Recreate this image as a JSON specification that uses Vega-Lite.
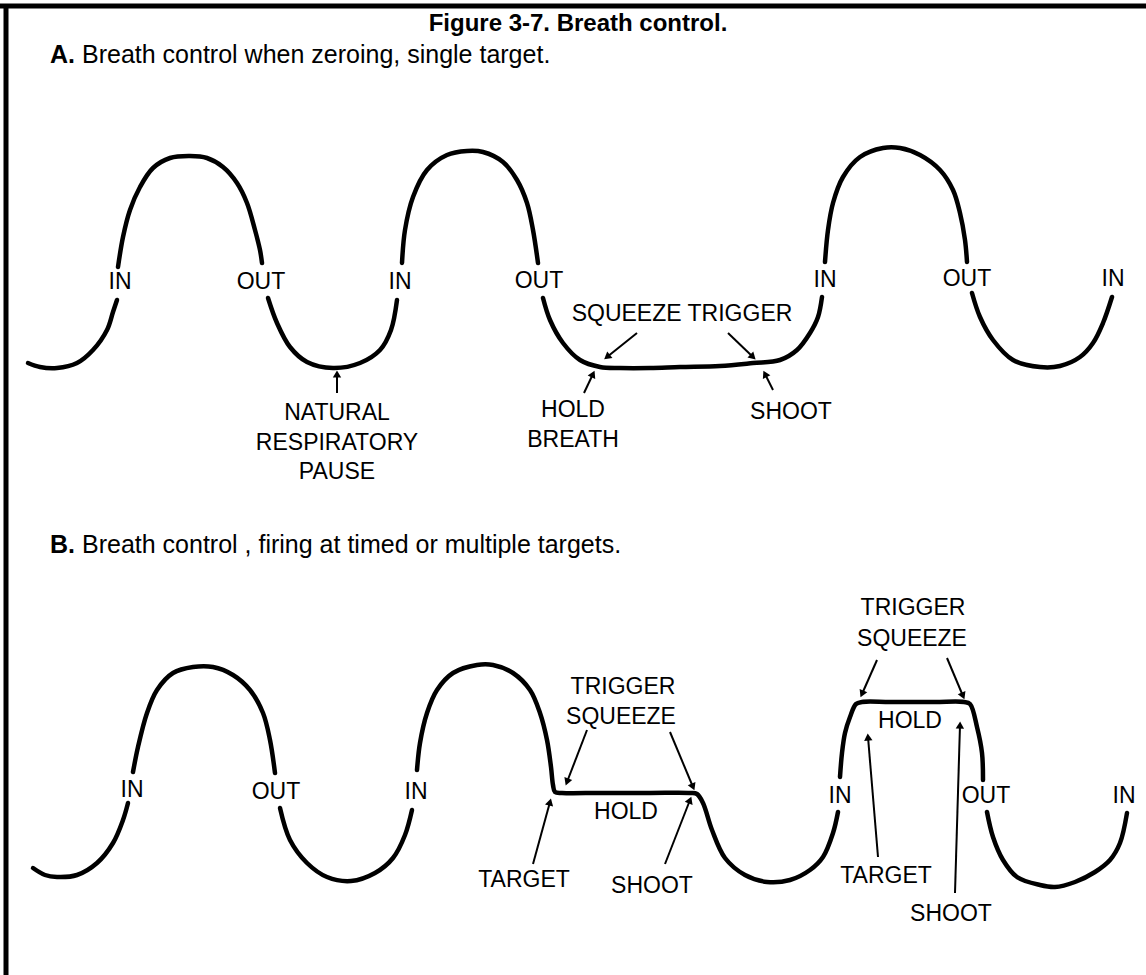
{
  "$schema": "https://vega.github.io/schema/vega-lite/v6.json",
  "width": 1146,
  "height": 975,
  "autosize": {"type": "none"},
  "padding": 0,
  "background": "white",
  "config": {"view": {"stroke": null}, "font": "Liberation Sans"},
  "datasets": {
    "border": [
      {"x": 0, "y": 6, "x2": 1146, "y2": 6},
      {"x": 6, "y": 4, "x2": 6, "y2": 975}
    ],
    "curve": [
      {"s":"A1","i":0,"x":28,"y":363},{"s":"A1","i":1,"x":40,"y":367},{"s":"A1","i":2,"x":57,"y":368},{"s":"A1","i":3,"x":77,"y":363},{"s":"A1","i":4,"x":93,"y":350},{"s":"A1","i":5,"x":107,"y":330},{"s":"A1","i":6,"x":113,"y":312},{"s":"A1","i":7,"x":117,"y":300},
      {"s":"A2","i":0,"x":118,"y":267},{"s":"A2","i":1,"x":123,"y":237},{"s":"A2","i":2,"x":130,"y":210},{"s":"A2","i":3,"x":140,"y":187},{"s":"A2","i":4,"x":153,"y":168},{"s":"A2","i":5,"x":170,"y":158},{"s":"A2","i":6,"x":190,"y":156},{"s":"A2","i":7,"x":207,"y":158},{"s":"A2","i":8,"x":223,"y":167},{"s":"A2","i":9,"x":237,"y":183},{"s":"A2","i":10,"x":247,"y":203},{"s":"A2","i":11,"x":255,"y":230},{"s":"A2","i":12,"x":260,"y":250},{"s":"A2","i":13,"x":262,"y":263},
      {"s":"A3","i":0,"x":268,"y":298},{"s":"A3","i":1,"x":277,"y":323},{"s":"A3","i":2,"x":290,"y":347},{"s":"A3","i":3,"x":307,"y":362},{"s":"A3","i":4,"x":333,"y":368},{"s":"A3","i":5,"x":360,"y":363},{"s":"A3","i":6,"x":380,"y":350},{"s":"A3","i":7,"x":391,"y":330},{"s":"A3","i":8,"x":397,"y":300},
      {"s":"A4","i":0,"x":402,"y":263},{"s":"A4","i":1,"x":405,"y":230},{"s":"A4","i":2,"x":413,"y":197},{"s":"A4","i":3,"x":427,"y":170},{"s":"A4","i":4,"x":447,"y":155},{"s":"A4","i":5,"x":467,"y":151},{"s":"A4","i":6,"x":483,"y":152},{"s":"A4","i":7,"x":503,"y":162},{"s":"A4","i":8,"x":517,"y":180},{"s":"A4","i":9,"x":527,"y":203},{"s":"A4","i":10,"x":533,"y":230},{"s":"A4","i":11,"x":538,"y":263},
      {"s":"A5","i":0,"x":543,"y":298},{"s":"A5","i":1,"x":550,"y":320},{"s":"A5","i":2,"x":563,"y":343},{"s":"A5","i":3,"x":580,"y":360},{"s":"A5","i":4,"x":600,"y":367},{"s":"A5","i":5,"x":620,"y":368},{"s":"A5","i":6,"x":650,"y":368},{"s":"A5","i":7,"x":680,"y":367},{"s":"A5","i":8,"x":720,"y":366},{"s":"A5","i":9,"x":753,"y":363},{"s":"A5","i":10,"x":780,"y":360},{"s":"A5","i":11,"x":797,"y":350},{"s":"A5","i":12,"x":810,"y":333},{"s":"A5","i":13,"x":818,"y":317},{"s":"A5","i":14,"x":822,"y":297},
      {"s":"A6","i":0,"x":825,"y":262},{"s":"A6","i":1,"x":828,"y":230},{"s":"A6","i":2,"x":833,"y":203},{"s":"A6","i":3,"x":843,"y":177},{"s":"A6","i":4,"x":860,"y":157},{"s":"A6","i":5,"x":883,"y":148},{"s":"A6","i":6,"x":900,"y":148},{"s":"A6","i":7,"x":920,"y":155},{"s":"A6","i":8,"x":940,"y":170},{"s":"A6","i":9,"x":953,"y":190},{"s":"A6","i":10,"x":960,"y":213},{"s":"A6","i":11,"x":965,"y":240},{"s":"A6","i":12,"x":967,"y":262},
      {"s":"A7","i":0,"x":972,"y":293},{"s":"A7","i":1,"x":980,"y":317},{"s":"A7","i":2,"x":993,"y":340},{"s":"A7","i":3,"x":1013,"y":360},{"s":"A7","i":4,"x":1040,"y":367},{"s":"A7","i":5,"x":1060,"y":366},{"s":"A7","i":6,"x":1080,"y":357},{"s":"A7","i":7,"x":1093,"y":343},{"s":"A7","i":8,"x":1103,"y":323},{"s":"A7","i":9,"x":1112,"y":297},
      {"s":"B1","i":0,"x":33,"y":868},{"s":"B1","i":1,"x":45,"y":875},{"s":"B1","i":2,"x":57,"y":877},{"s":"B1","i":3,"x":77,"y":875},{"s":"B1","i":4,"x":97,"y":863},{"s":"B1","i":5,"x":113,"y":843},{"s":"B1","i":6,"x":123,"y":820},{"s":"B1","i":7,"x":128,"y":803},
      {"s":"B2","i":0,"x":133,"y":772},{"s":"B2","i":1,"x":138,"y":747},{"s":"B2","i":2,"x":147,"y":713},{"s":"B2","i":3,"x":157,"y":690},{"s":"B2","i":4,"x":173,"y":673},{"s":"B2","i":5,"x":193,"y":667},{"s":"B2","i":6,"x":213,"y":667},{"s":"B2","i":7,"x":233,"y":675},{"s":"B2","i":8,"x":250,"y":690},{"s":"B2","i":9,"x":263,"y":713},{"s":"B2","i":10,"x":270,"y":740},{"s":"B2","i":11,"x":275,"y":773},
      {"s":"B3","i":0,"x":280,"y":808},{"s":"B3","i":1,"x":290,"y":840},{"s":"B3","i":2,"x":307,"y":863},{"s":"B3","i":3,"x":327,"y":877},{"s":"B3","i":4,"x":351,"y":881},{"s":"B3","i":5,"x":375,"y":873},{"s":"B3","i":6,"x":393,"y":858},{"s":"B3","i":7,"x":405,"y":835},{"s":"B3","i":8,"x":412,"y":810},
      {"s":"B4","i":0,"x":417,"y":770},{"s":"B4","i":1,"x":420,"y":743},{"s":"B4","i":2,"x":427,"y":713},{"s":"B4","i":3,"x":437,"y":690},{"s":"B4","i":4,"x":453,"y":673},{"s":"B4","i":5,"x":477,"y":665},{"s":"B4","i":6,"x":493,"y":665},{"s":"B4","i":7,"x":513,"y":673},{"s":"B4","i":8,"x":530,"y":690},{"s":"B4","i":9,"x":540,"y":713},{"s":"B4","i":10,"x":547,"y":740},{"s":"B4","i":11,"x":551,"y":767},{"s":"B4","i":12,"x":553,"y":785},{"s":"B4","i":13,"x":555,"y":792},{"s":"B4","i":14,"x":562,"y":793},{"s":"B4","i":15,"x":600,"y":793},{"s":"B4","i":16,"x":650,"y":793},{"s":"B4","i":17,"x":690,"y":793},{"s":"B4","i":18,"x":697,"y":794},{"s":"B4","i":19,"x":703,"y":803},{"s":"B4","i":20,"x":712,"y":830},{"s":"B4","i":21,"x":725,"y":858},{"s":"B4","i":22,"x":745,"y":875},{"s":"B4","i":23,"x":767,"y":882},{"s":"B4","i":24,"x":790,"y":880},{"s":"B4","i":25,"x":810,"y":870},{"s":"B4","i":26,"x":823,"y":857},{"s":"B4","i":27,"x":833,"y":833},{"s":"B4","i":28,"x":838,"y":812},
      {"s":"B5","i":0,"x":840,"y":777},{"s":"B5","i":1,"x":842,"y":753},{"s":"B5","i":2,"x":845,"y":733},{"s":"B5","i":3,"x":850,"y":717},{"s":"B5","i":4,"x":856,"y":704},{"s":"B5","i":5,"x":862,"y":702},{"s":"B5","i":6,"x":890,"y":702},{"s":"B5","i":7,"x":935,"y":702},{"s":"B5","i":8,"x":964,"y":702},{"s":"B5","i":9,"x":970,"y":704},{"s":"B5","i":10,"x":977,"y":727},{"s":"B5","i":11,"x":982,"y":753},{"s":"B5","i":12,"x":983,"y":780},
      {"s":"B6","i":0,"x":987,"y":812},{"s":"B6","i":1,"x":993,"y":837},{"s":"B6","i":2,"x":1003,"y":860},{"s":"B6","i":3,"x":1017,"y":877},{"s":"B6","i":4,"x":1040,"y":885},{"s":"B6","i":5,"x":1055,"y":887},{"s":"B6","i":6,"x":1075,"y":882},{"s":"B6","i":7,"x":1095,"y":872},{"s":"B6","i":8,"x":1110,"y":860},{"s":"B6","i":9,"x":1120,"y":843},{"s":"B6","i":10,"x":1127,"y":813}
    ],
    "arrows": [
      {"x": 337, "y": 393, "x2": 337, "y2": 374},
      {"x": 584, "y": 393, "x2": 593, "y2": 374},
      {"x": 773, "y": 390, "x2": 765, "y2": 374},
      {"x": 637, "y": 333, "x2": 607, "y2": 357},
      {"x": 728, "y": 333, "x2": 753, "y2": 357},
      {"x": 587, "y": 730, "x2": 567, "y2": 782},
      {"x": 670, "y": 732, "x2": 693, "y2": 787},
      {"x": 533, "y": 864, "x2": 550, "y2": 802},
      {"x": 665, "y": 864, "x2": 690, "y2": 800},
      {"x": 877, "y": 660, "x2": 862, "y2": 694},
      {"x": 947, "y": 658, "x2": 963, "y2": 696},
      {"x": 878, "y": 857, "x2": 868, "y2": 737},
      {"x": 955, "y": 893, "x2": 960, "y2": 725}
    ],
    "labels": [
      {"x": 120, "y": 282, "t": "IN"},
      {"x": 261, "y": 282, "t": "OUT"},
      {"x": 400, "y": 282, "t": "IN"},
      {"x": 539, "y": 281, "t": "OUT"},
      {"x": 825, "y": 280, "t": "IN"},
      {"x": 967, "y": 279, "t": "OUT"},
      {"x": 1113, "y": 279, "t": "IN"},
      {"x": 682, "y": 314, "t": "SQUEEZE TRIGGER"},
      {"x": 337, "y": 413, "t": "NATURAL"},
      {"x": 337, "y": 443, "t": "RESPIRATORY"},
      {"x": 337, "y": 472, "t": "PAUSE"},
      {"x": 573, "y": 410, "t": "HOLD"},
      {"x": 573, "y": 440, "t": "BREATH"},
      {"x": 791, "y": 412, "t": "SHOOT"},
      {"x": 132, "y": 790, "t": "IN"},
      {"x": 276, "y": 792, "t": "OUT"},
      {"x": 416, "y": 792, "t": "IN"},
      {"x": 623, "y": 687, "t": "TRIGGER"},
      {"x": 621, "y": 717, "t": "SQUEEZE"},
      {"x": 626, "y": 812, "t": "HOLD"},
      {"x": 524, "y": 880, "t": "TARGET"},
      {"x": 652, "y": 886, "t": "SHOOT"},
      {"x": 913, "y": 608, "t": "TRIGGER"},
      {"x": 912, "y": 639, "t": "SQUEEZE"},
      {"x": 910, "y": 721, "t": "HOLD"},
      {"x": 840, "y": 796, "t": "IN"},
      {"x": 986, "y": 796, "t": "OUT"},
      {"x": 1124, "y": 796, "t": "IN"},
      {"x": 886, "y": 876, "t": "TARGET"},
      {"x": 951, "y": 914, "t": "SHOOT"}
    ],
    "title": [
      {"x": 578, "y": 24, "t": "Figure 3-7. Breath control."}
    ],
    "sectionKeys": [
      {"x": 50, "y": 55, "t": "A."},
      {"x": 50, "y": 545, "t": "B."}
    ],
    "sectionText": [
      {"x": 82, "y": 55, "t": "Breath control when zeroing, single target."},
      {"x": 82, "y": 545, "t": "Breath control , firing at timed or multiple targets."}
    ]
  },
  "encoding": {
    "x": {"field": "x", "type": "quantitative", "axis": null, "scale": {"domain": [0, 1146], "nice": false, "zero": false}},
    "y": {"field": "y", "type": "quantitative", "axis": null, "scale": {"domain": [0, 975], "nice": false, "zero": false, "reverse": true}}
  },
  "layer": [
    {
      "data": {"name": "border"},
      "mark": {"type": "rule", "color": "black", "strokeWidth": 5},
      "encoding": {"x2": {"field": "x2"}, "y2": {"field": "y2"}}
    },
    {
      "data": {"name": "curve"},
      "mark": {"type": "line", "color": "black", "strokeWidth": 4.5, "interpolate": "catmull-rom", "strokeCap": "round"},
      "encoding": {"detail": {"field": "s"}, "order": {"field": "i", "type": "quantitative"}}
    },
    {
      "data": {"name": "arrows"},
      "mark": {"type": "rule", "color": "black", "strokeWidth": 2},
      "encoding": {"x2": {"field": "x2"}, "y2": {"field": "y2"}}
    },
    {
      "data": {"name": "arrows"},
      "transform": [{"calculate": "atan2(datum.x2 - datum.x, datum.y - datum.y2) * 180 / PI", "as": "ang"}],
      "mark": {"type": "point", "shape": "triangle-up", "filled": true, "color": "black", "size": 70, "opacity": 1},
      "encoding": {
        "x": {"field": "x2", "type": "quantitative"},
        "y": {"field": "y2", "type": "quantitative"},
        "angle": {"field": "ang", "type": "quantitative", "scale": null}
      }
    },
    {
      "data": {"name": "labels"},
      "mark": {"type": "text", "font": "Liberation Sans", "fontSize": 23, "align": "center", "baseline": "middle", "color": "black"},
      "encoding": {"text": {"field": "t"}}
    },
    {
      "data": {"name": "title"},
      "mark": {"type": "text", "font": "Liberation Sans", "fontSize": 24, "fontWeight": "bold", "align": "center", "baseline": "middle", "color": "black"},
      "encoding": {"text": {"field": "t"}}
    },
    {
      "data": {"name": "sectionKeys"},
      "mark": {"type": "text", "font": "Liberation Sans", "fontSize": 25, "fontWeight": "bold", "align": "left", "baseline": "middle", "color": "black"},
      "encoding": {"text": {"field": "t"}}
    },
    {
      "data": {"name": "sectionText"},
      "mark": {"type": "text", "font": "Liberation Sans", "fontSize": 25, "align": "left", "baseline": "middle", "color": "black"},
      "encoding": {"text": {"field": "t"}}
    }
  ]
}
